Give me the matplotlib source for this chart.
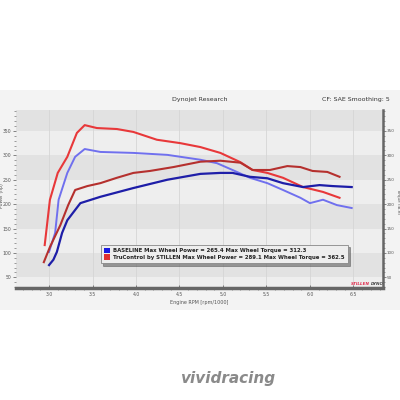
import numpy as np
import matplotlib
matplotlib.use("Agg")
import matplotlib.pyplot as plt
from matplotlib.patches import Patch, Rectangle
from matplotlib.ticker import MultipleLocator, FormatStrFormatter

# engine rpm / 1000 and readings, taken off the dyno sheet
rpm_stl_tq = [2.95, 3.01, 3.10, 3.21, 3.32, 3.41, 3.55, 3.78, 3.97, 4.24, 4.51,
              4.74, 4.97, 5.20, 5.34, 5.51, 5.69, 5.92, 6.15, 6.34]
stl_torque = [116, 209, 264, 297, 346, 362, 356, 354, 348, 332, 325,
              317, 305, 286, 270, 264, 254, 235, 225, 213]

rpm_base_tq = [3.00, 3.07, 3.11, 3.21, 3.30, 3.41, 3.59, 3.97, 4.36, 4.74,
               4.93, 5.11, 5.31, 5.51, 5.69, 5.89, 6.00, 6.15, 6.31, 6.48]
base_torque = [102, 141, 209, 264, 297, 313, 307, 305, 301, 291,
               284, 270, 254, 243, 229, 213, 202, 209, 198, 192]

rpm_stl_hp = [2.94, 3.01, 3.13, 3.22, 3.30, 3.44, 3.59, 3.78, 3.97, 4.16, 4.43,
              4.74, 4.97, 5.20, 5.34, 5.54, 5.74, 5.89, 6.03, 6.20, 6.34]
stl_power = [81, 112, 157, 198, 229, 237, 243, 254, 264, 268, 276,
             287, 289, 285, 270, 270, 278, 276, 268, 266, 256]

rpm_base_hp = [3.00, 3.05, 3.09, 3.15, 3.21, 3.36, 3.59, 3.97, 4.36, 4.74,
               4.97, 5.11, 5.31, 5.51, 5.69, 5.92, 6.11, 6.26, 6.48]
base_power = [75, 86, 102, 141, 167, 202, 215, 233, 250, 262,
              264, 264, 256, 253, 243, 235, 239, 237, 235]

legend_labels = [
    "BASELINE Max Wheel Power = 265.4 Max Wheel Torque = 312.3",
    "TruControl by STILLEN Max Wheel Power = 289.1 Max Wheel Torque = 362.5",
]

fig = plt.figure(figsize=(4, 4), dpi=100)
fig.patch.set_facecolor("white")
# light panel behind the dyno sheet
fig.patches.append(Rectangle((0, 1 - 310 / 400), 1, 220 / 400, transform=fig.transFigure,
                             facecolor="#f3f3f3", edgecolor="none", zorder=-10))

ax = fig.add_axes([16 / 400, 1 - 288 / 400, 367 / 400, 178 / 400])
ax.set_xlim(2.62, 6.84)
ax.set_ylim(28, 393)
ax.set_facecolor("#ececec")

# alternating grey bands
for i, lo in enumerate(range(0, 400, 50)):
    ax.axhspan(lo, lo + 50, color="#e2e2e2" if i % 2 else "#eeeeee", zorder=0, lw=0)
for xv in np.arange(3.0, 6.6, 0.5):
    ax.axvline(xv, color="#d6d6d6", lw=0.6, zorder=0.5)

ax.plot(rpm_stl_tq, stl_torque, color="#e8383a", lw=1.5, zorder=3)
ax.plot(rpm_base_tq, base_torque, color="#7070ee", lw=1.4, zorder=3)
ax.plot(rpm_stl_hp, stl_power, color="#b5302e", lw=1.5, zorder=3)
ax.plot(rpm_base_hp, base_power, color="#1e1ea8", lw=1.6, zorder=3)

ax.xaxis.set_major_locator(MultipleLocator(0.5))
ax.xaxis.set_minor_locator(MultipleLocator(0.1))
ax.xaxis.set_major_formatter(FormatStrFormatter("%.1f"))
ax.yaxis.set_major_locator(MultipleLocator(50))
ax.yaxis.set_minor_locator(MultipleLocator(10))
ax.tick_params(axis="both", labelsize=3.3, colors="#555555", length=2, width=0.5, pad=1.5)
ax.tick_params(axis="x", pad=3)
ax.tick_params(axis="both", which="minor", length=1.2, width=0.4, colors="#555555")
ax.tick_params(axis="y", direction="out")
ax.tick_params(axis="x", direction="in")

for side in ["top", "left"]:
    ax.spines[side].set_visible(False)
ax.spines["bottom"].set_linewidth(2.5)
ax.spines["bottom"].set_color("#666666")
ax.spines["right"].set_visible(False)

ax.set_xlabel("Engine RPM [rpm/1000]", fontsize=3.5, color="#555555", labelpad=2)
ax.set_ylabel("Power (hp)", fontsize=3.3, color="#555555")
ax.yaxis.set_label_coords(-0.034, 0.52)

ax2 = ax.twinx()
ax2.set_ylim(ax.get_ylim())
ax2.yaxis.set_major_locator(MultipleLocator(50))
ax2.yaxis.set_minor_locator(MultipleLocator(10))
ax2.tick_params(axis="y", labelsize=3.0, colors="#555555", length=2, width=0.5, pad=0.8)
ax2.tick_params(axis="y", which="minor", length=1.2, width=0.4, colors="#555555")
for side in ["top", "left", "bottom"]:
    ax2.spines[side].set_visible(False)
ax2.spines["right"].set_linewidth(1.8)
ax2.spines["right"].set_color("#666666")
ax2.set_ylabel("Torque (lb-ft)", fontsize=3.0, color="#555555", rotation=270, va="center")
ax2.yaxis.set_label_coords(1.041, 0.49)

handles = [Patch(facecolor="#1a1ae0", edgecolor="none"),
           Patch(facecolor="#e03030", edgecolor="none")]
leg = ax.legend(handles, legend_labels, loc="upper left",
                bbox_to_anchor=((98 - 16) / 367, (288 - 242) / 178),
                prop={"size": 3.9, "weight": "bold"}, frameon=True, fancybox=False,
                shadow=True, handlelength=1.1, handleheight=1.1, handletextpad=0.6,
                borderpad=0.55, labelspacing=0.25)
leg.get_frame().set_facecolor("#eeeeee")
leg.get_frame().set_edgecolor("#888888")
leg.get_frame().set_linewidth(0.6)
for t in leg.get_texts():
    t.set_color("#222222")

ax.text(6.69, 33, "STILLEN", fontsize=3, color="#e03050", weight="bold",
        style="italic", ha="right", va="bottom", zorder=5)
ax.text(6.70, 33, "DYNO", fontsize=3, color="#444444", weight="bold",
        style="italic", ha="left", va="bottom", zorder=5)

fig.text(0.5, 1 - 99 / 400, "Dynojet Research", fontsize=4.5, color="#333333",
         ha="center", va="center")
fig.text(0.975, 1 - 99 / 400, "CF: SAE Smoothing: 5", fontsize=4.5, color="#333333",
         ha="right", va="center")
fig.text(0.57, 1 - 378 / 400, "vividracing", fontsize=11, color="#8a8a8a",
         weight="bold", style="italic", ha="center", va="center")

fig.savefig("out.png", dpi=100)
